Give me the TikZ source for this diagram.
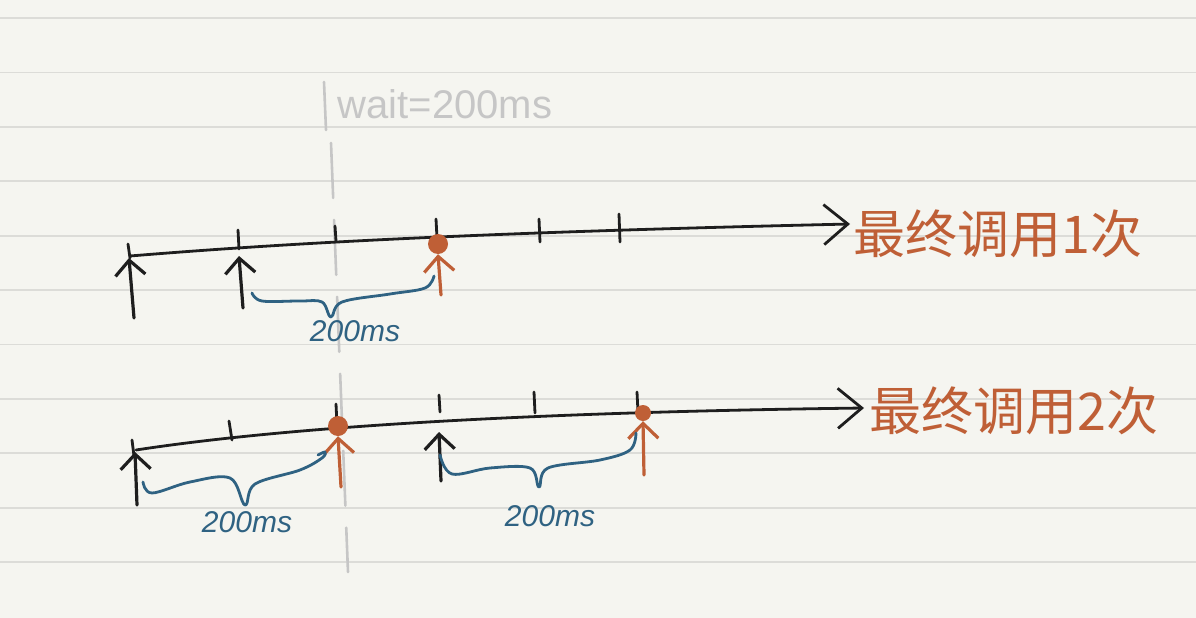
\documentclass[tikz,border=0pt]{standalone}
\usepackage{fontspec}
\setmainfont{Liberation Sans}
\newfontfamily\cjk{Noto Sans CJK SC}
\usetikzlibrary{arrows.meta}
\definecolor{paper}{HTML}{F5F5F0}
\definecolor{rule}{HTML}{DCDCD8}
\definecolor{ink}{HTML}{1E1E1E}
\definecolor{rust}{HTML}{BF5F36}
\definecolor{teal}{HTML}{2F6282}
\definecolor{pencil}{HTML}{C6C6C6}
\tikzset{
  axis/.style={ink, line width=2.8pt, line cap=round, -{Straight Barb[length=24pt,width=40pt,line width=2.8pt]}},
  tick/.style={ink, line width=2.8pt, line cap=round},
  callb/.style={ink, line width=3.2pt, line cap=round, -{Straight Barb[length=15pt,width=30pt,line width=3.2pt]}},
  callr/.style={rust, line width=3.2pt, line cap=round, -{Straight Barb[length=15pt,width=30pt,line width=3.2pt]}},
  fire/.style={circle, fill=rust, minimum size=20pt, inner sep=0pt},
  brace/.style={teal, line width=2.8pt, line cap=round, line join=round},
  mslabel/.style={teal, font=\fontsize{30}{32}\selectfont\itshape},
  result/.style={rust, font=\cjk\fontsize{52}{56}\selectfont, anchor=west},
  guide/.style={pencil, line width=2.6pt, line cap=round}
}
\begin{document}
\begin{tikzpicture}[x=1pt,y=-1pt]
\useasboundingbox[fill=paper] (0,0) rectangle (1196,618);
% ruled paper
\foreach \yy in {18,72.5,127,181,236,290,344.5,399,453,508,562}
  \draw[rule, line width=1.6pt] (0,\yy) -- (1196,\yy);

% wait guide
\coordinate (gbt) at (324,82);
\coordinate (gbb) at (326,130);
\draw[guide] (gbt) -- (gbb);
\node[pencil, anchor=west, font=\fontsize{40}{44}\selectfont] (wait) at (334,104) {wait=200ms};
\coordinate (gt) at (331,143);
\coordinate (gb) at (348,572);
\draw[guide, dash pattern=on 55pt off 22pt] (gt) -- (gb);

% ---------- timeline 1 ----------
\coordinate (a1s) at (130,256);
\coordinate (a1e) at (850,224);
\draw[axis] (a1s) .. controls (300,242) and (500,232) .. (a1e);
\draw[tick] (128,244) -- (130,258);
\draw[tick] (238,230) -- (239,249);
\draw[tick] (335,226) -- (336,241);
\draw[tick] (436,219) -- (437,238);
\draw[tick] (539,219) -- (540,242);
\draw[tick] (619,214) -- (620,242);

\coordinate (u1a) at (134,318);
\coordinate (u1b) at (129,258);
\draw[callb] (u1a) -- (u1b);
\coordinate (u2a) at (243,308);
\coordinate (u2b) at (239,256);
\draw[callb] (u2a) -- (u2b);
\node[fire] (f1) at (438,244) {};
\coordinate (r1a) at (441,295);
\draw[callr] (r1a) -- (f1.south);

\draw[brace] plot[smooth, tension=0.6] coordinates
  {(252,293) (262,301) (300,301) (322,302) (331,317) (342,302) (390,294) (425,288) (434,276)};
\node[mslabel] (ms1) at (355,331) {200ms};

\node[result] (res1) at (850,234) {最终调用1次};

% ---------- timeline 2 ----------
\coordinate (a2s) at (136,450);
\coordinate (a2e) at (864,408);
\draw[axis] (a2s) .. controls (300,425) and (550,412) .. (a2e);
\draw[tick] (132,440) -- (134,456);
\draw[tick] (229,421) -- (232,440);
\draw[tick] (336,404) -- (337,425);
\draw[tick] (439,395) -- (440,412);
\draw[tick] (534,392) -- (535,413);
\draw[tick] (637,392) -- (638,412);

\coordinate (u3a) at (137,505);
\coordinate (u3b) at (135,452);
\draw[callb] (u3a) -- (u3b);
\coordinate (u4a) at (441,481);
\coordinate (u4b) at (439,432);
\draw[callb] (u4a) -- (u4b);
\node[fire] (f2) at (338,426) {};
\coordinate (r2a) at (341,487);
\draw[callr] (r2a) -- (f2.south);
\node[fire, minimum size=16pt] (f3) at (643,413) {};
\coordinate (r3a) at (644,475);
\draw[callr] (r3a) -- (f3.south);

\draw[brace] plot[smooth, tension=0.6] coordinates
  {(143,482) (152,493) (190,482) (230,478) (245,505) (255,484) (300,470) (322,458) (325,452) (318,455)};
\node[mslabel] (ms2) at (247,522) {200ms};
\draw[brace] plot[smooth, tension=0.6] coordinates
  {(440,455) (452,474) (490,468) (530,468) (539,487) (548,468) (600,460) (630,450) (636,433)};
\node[mslabel] (ms3) at (550,516) {200ms};

\node[result] (res2) at (866,411) {最终调用2次};
\end{tikzpicture}
\end{document}
